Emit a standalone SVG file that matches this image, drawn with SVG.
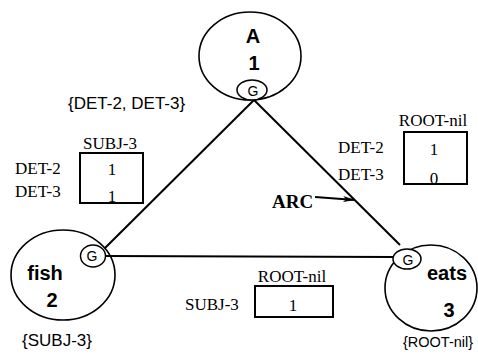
<svg xmlns="http://www.w3.org/2000/svg" width="478" height="356" viewBox="0 0 478 356">
  <style>
    .node { fill: none; stroke: #000; stroke-width: 1.6; }
    .gov { fill: #fff; stroke: #000; stroke-width: 1.5; }
    .edge { fill: none; stroke: #000; stroke-width: 2; }
    .box { fill: none; stroke: #000; stroke-width: 2; }
    .word { font-family: "Liberation Sans", Arial, sans-serif; font-weight: bold; font-size: 20px; fill: #000; text-anchor: middle; }
    .g { font-family: "Liberation Sans", Arial, sans-serif; font-size: 14px; fill: #000; text-anchor: middle; }
    .set { font-family: "Liberation Sans", Arial, sans-serif; font-size: 17px; fill: #000; }
    .set.small { font-size: 14.5px; }
    .lab { font-family: "Liberation Serif", "Times New Roman", serif; font-size: 17px; fill: #000; }
    .mid { text-anchor: middle; }
    .arc { font-family: "Liberation Serif", "Times New Roman", serif; font-size: 19px; font-weight: bold; fill: #000; }
  </style>
  <defs>
    <marker id="head" viewBox="0 0 12 6" refX="12" refY="3" markerWidth="12" markerHeight="6" markerUnits="userSpaceOnUse" orient="auto">
      <path d="M0,0 L12,3 L0,6 L3,3 Z" fill="#000"/>
    </marker>
  </defs>
  <rect width="478" height="356" fill="#fff"/>

  <!-- arcs between the word nodes -->
  <g id="connectors">
    <line class="edge" x1="254" y1="100" x2="105" y2="248"/>
    <line class="edge" x1="254" y1="100" x2="400" y2="245"/>
    <line class="edge" x1="105" y1="256" x2="393" y2="257"/>
    <line stroke="#000" stroke-width="1.8" x1="315" y1="197" x2="355" y2="200" marker-end="url(#head)"/>
  </g>

  <g id="node-A">
    <ellipse class="node" cx="250" cy="56" rx="51" ry="44"/>
    <text class="word" x="253" y="43">A</text>
    <text class="word" x="254" y="70">1</text>
    <ellipse class="gov" cx="252" cy="90" rx="15" ry="10"/>
    <text class="g" x="253" y="96">G</text>
    <text class="set" x="68" y="109">{DET-2, DET-3}</text>
  </g>

  <g id="node-fish">
    <ellipse class="node" cx="63" cy="275" rx="52" ry="45"/>
    <text class="word" x="45" y="280">fish</text>
    <text class="word" x="52" y="307">2</text>
    <ellipse class="gov" cx="93" cy="256" rx="12.5" ry="11"/>
    <text class="g" x="92" y="261">G</text>
    <text class="set" x="22" y="346">{SUBJ-3}</text>
  </g>

  <g id="node-eats">
    <ellipse class="node" cx="431" cy="288" rx="46" ry="43"/>
    <text class="word" x="447" y="280">eats</text>
    <text class="word" x="449" y="317">3</text>
    <ellipse class="gov" cx="407" cy="259" rx="14" ry="10"/>
    <text class="g" x="408" y="265">G</text>
    <text class="set small" x="403" y="347">{ROOT-nil}</text>
  </g>

  <!-- constraint matrix on the A-fish arc -->
  <g id="matrix-A-fish">
    <text class="lab mid" x="110" y="149">SUBJ-3</text>
    <text class="lab" x="15" y="174">DET-2</text>
    <text class="lab" x="15" y="197">DET-3</text>
    <rect class="box" x="80" y="153" width="63" height="50"/>
    <text class="lab mid" x="112" y="175">1</text>
    <text class="lab mid" x="112" y="202">1</text>
  </g>

  <!-- constraint matrix on the A-eats arc -->
  <g id="matrix-A-eats">
    <text class="lab mid" x="433" y="126">ROOT-nil</text>
    <text class="lab" x="338" y="153">DET-2</text>
    <text class="lab" x="338" y="180">DET-3</text>
    <rect class="box" x="404" y="132" width="63" height="52"/>
    <text class="lab mid" x="434" y="155">1</text>
    <text class="lab mid" x="434" y="184">0</text>
  </g>

  <!-- constraint matrix on the fish-eats arc -->
  <g id="matrix-fish-eats">
    <text class="lab mid" x="292" y="282">ROOT-nil</text>
    <text class="lab" x="185" y="310">SUBJ-3</text>
    <rect class="box" x="255" y="286" width="78" height="31"/>
    <text class="lab mid" x="293" y="311">1</text>
  </g>

  <g id="label-arc">
    <text class="arc" x="272" y="208">ARC</text>
  </g>
</svg>
